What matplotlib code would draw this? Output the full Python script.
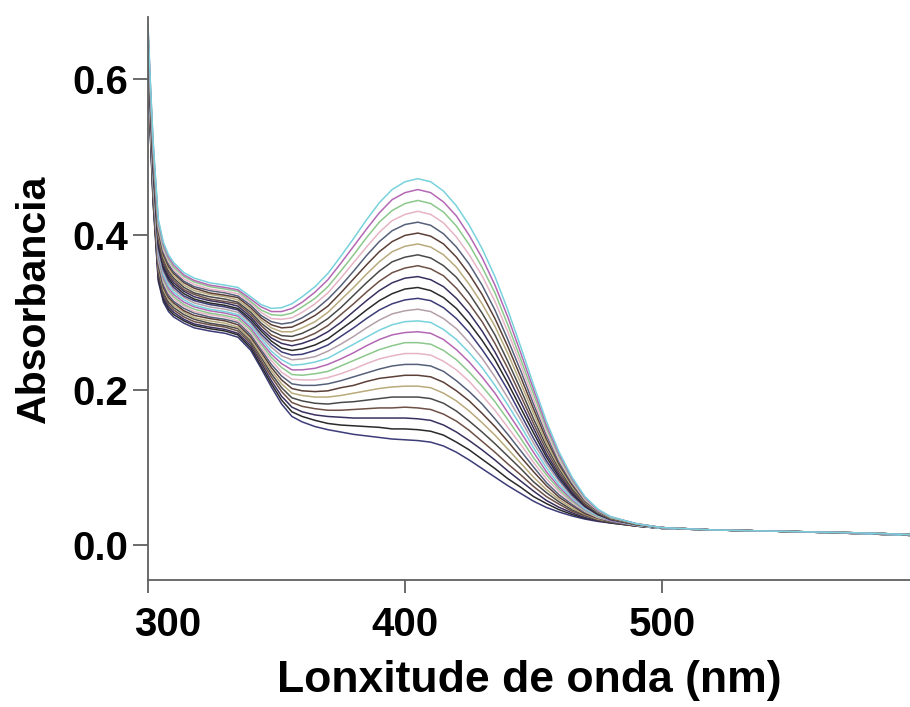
import matplotlib
matplotlib.use("Agg")
import matplotlib.pyplot as plt
import matplotlib.transforms as mtransforms

wavelength = [300, 301, 302, 304, 306, 308, 310, 314, 318, 324, 330, 335, 340, 344, 348, 352, 356, 360,
              365, 370, 375, 380, 385, 390, 395, 400, 405, 410, 415, 420, 425, 430, 435, 440, 445, 450,
              455, 460, 465, 470, 475, 480, 490, 500, 520, 550, 580, 597]

# absorbance spectra, from the lowest curve (abs_01) to the highest one (abs_25)
abs_01 = [.600,.520,.440,.340,.313,.301,.294,.286,.280,.276,.273,.268,.251,.228,.204,.182,.166,.159,.153,.149,.146,.143,.141,.139,.137,.136,.135,.133,.128,.120,.110,.099,.088,.077,.067,.057,.049,.043,.038,.034,.031,.029,.025,.022,.020,.018,.015,.013]
abs_02 = [.603,.523,.443,.343,.316,.304,.297,.289,.283,.279,.276,.271,.254,.231,.208,.187,.172,.166,.161,.157,.155,.154,.153,.152,.150,.150,.149,.147,.142,.133,.123,.111,.099,.086,.075,.063,.054,.046,.040,.035,.032,.029,.025,.022,.020,.018,.015,.013]
abs_03 = [.606,.526,.447,.347,.319,.307,.300,.291,.285,.281,.278,.273,.257,.235,.212,.192,.178,.172,.168,.166,.165,.164,.164,.164,.164,.164,.163,.161,.155,.146,.135,.123,.110,.096,.083,.070,.058,.049,.042,.036,.032,.030,.025,.022,.020,.018,.015,.013]
abs_04 = [.609,.529,.450,.350,.323,.310,.303,.294,.288,.284,.281,.276,.260,.238,.217,.198,.184,.179,.176,.174,.174,.175,.176,.177,.177,.178,.177,.175,.169,.160,.148,.134,.120,.105,.091,.076,.063,.053,.044,.038,.033,.030,.025,.022,.020,.018,.015,.013]
abs_05 = [.612,.532,.453,.353,.326,.313,.306,.297,.291,.286,.283,.279,.263,.242,.221,.203,.190,.186,.183,.182,.184,.185,.187,.189,.191,.191,.191,.189,.183,.173,.160,.146,.131,.115,.099,.082,.068,.056,.046,.039,.034,.030,.026,.022,.020,.018,.015,.013]
abs_06 = [.615,.535,.457,.357,.329,.316,.309,.300,.293,.289,.286,.281,.265,.245,.225,.208,.196,.193,.191,.191,.193,.196,.199,.202,.204,.205,.205,.203,.196,.186,.173,.158,.142,.124,.106,.088,.072,.059,.048,.040,.034,.031,.026,.022,.020,.018,.015,.013]
abs_07 = [.618,.538,.460,.360,.332,.319,.312,.302,.296,.292,.289,.284,.268,.249,.229,.213,.202,.199,.198,.199,.203,.206,.211,.215,.217,.219,.219,.217,.210,.199,.186,.170,.153,.134,.114,.095,.077,.062,.051,.041,.035,.031,.026,.022,.020,.018,.015,.013]
abs_08 = [.620,.540,.463,.363,.335,.322,.314,.305,.299,.294,.291,.287,.271,.252,.233,.218,.208,.206,.206,.208,.212,.217,.222,.227,.231,.233,.233,.231,.224,.212,.198,.182,.163,.143,.122,.101,.081,.065,.053,.043,.036,.031,.026,.022,.020,.018,.015,.013]
abs_09 = [.623,.543,.467,.367,.339,.325,.317,.308,.301,.297,.294,.289,.274,.255,.238,.223,.214,.213,.213,.216,.221,.227,.234,.240,.244,.247,.247,.245,.237,.226,.211,.193,.174,.152,.130,.107,.086,.069,.055,.044,.036,.032,.026,.022,.020,.018,.015,.013]
abs_10 = [.626,.546,.470,.370,.342,.328,.320,.310,.304,.299,.296,.292,.277,.259,.242,.229,.220,.219,.221,.224,.231,.238,.245,.252,.257,.261,.261,.259,.251,.239,.223,.205,.185,.162,.138,.113,.091,.072,.057,.045,.037,.032,.026,.022,.020,.018,.015,.013]
abs_11 = [.629,.549,.473,.373,.345,.331,.323,.313,.307,.302,.299,.295,.280,.262,.246,.234,.226,.226,.228,.233,.240,.248,.257,.265,.271,.274,.275,.273,.265,.252,.236,.217,.196,.171,.146,.120,.095,.075,.059,.046,.038,.032,.026,.022,.020,.018,.015,.013]
abs_12 = [.632,.552,.477,.377,.348,.334,.326,.316,.309,.304,.301,.297,.283,.266,.250,.239,.232,.233,.236,.241,.250,.259,.268,.277,.284,.288,.289,.287,.278,.265,.248,.229,.206,.181,.154,.126,.100,.078,.061,.047,.038,.033,.026,.022,.020,.018,.015,.013]
abs_13 = [.635,.555,.480,.380,.352,.338,.329,.319,.312,.307,.304,.300,.286,.269,.255,.244,.239,.240,.243,.250,.259,.269,.280,.290,.298,.302,.304,.301,.292,.279,.261,.241,.217,.190,.162,.132,.105,.082,.063,.049,.039,.033,.027,.023,.020,.018,.016,.014]
abs_14 = [.638,.558,.483,.383,.355,.341,.332,.321,.315,.310,.307,.303,.288,.272,.259,.249,.245,.246,.251,.258,.269,.280,.292,.303,.311,.316,.318,.315,.306,.292,.274,.252,.228,.200,.169,.138,.109,.085,.065,.050,.040,.033,.027,.023,.020,.018,.016,.014]
abs_15 = [.641,.561,.487,.387,.358,.344,.335,.324,.317,.312,.309,.305,.291,.276,.263,.254,.251,.253,.258,.266,.278,.290,.303,.315,.324,.330,.332,.328,.319,.305,.286,.264,.239,.209,.177,.145,.114,.088,.067,.051,.040,.034,.027,.023,.020,.018,.016,.014]
abs_16 = [.644,.564,.490,.390,.361,.347,.338,.327,.320,.315,.312,.308,.294,.279,.267,.260,.257,.260,.266,.275,.287,.301,.315,.328,.338,.344,.346,.342,.333,.318,.299,.276,.249,.218,.185,.151,.118,.091,.069,.052,.041,.034,.027,.023,.020,.018,.016,.014]
abs_17 = [.647,.567,.493,.393,.364,.350,.341,.329,.323,.317,.314,.311,.297,.283,.271,.265,.263,.266,.273,.283,.297,.311,.326,.340,.351,.357,.360,.356,.347,.331,.311,.288,.260,.228,.193,.157,.123,.094,.071,.053,.042,.034,.027,.023,.020,.018,.016,.014]
abs_18 = [.650,.570,.497,.397,.368,.353,.344,.332,.325,.320,.317,.313,.300,.286,.276,.270,.269,.273,.281,.292,.306,.322,.338,.353,.365,.371,.374,.370,.360,.345,.324,.299,.271,.237,.201,.163,.128,.098,.073,.055,.042,.035,.027,.023,.020,.018,.016,.014]
abs_19 = [.653,.573,.500,.400,.371,.356,.347,.335,.328,.323,.320,.316,.303,.290,.280,.275,.275,.280,.288,.300,.316,.332,.349,.365,.378,.385,.388,.384,.374,.358,.336,.311,.282,.247,.209,.170,.132,.101,.076,.056,.043,.035,.027,.023,.020,.018,.016,.014]
abs_20 = [.656,.576,.503,.403,.374,.359,.350,.338,.331,.325,.322,.319,.306,.293,.284,.280,.281,.287,.296,.308,.325,.343,.361,.378,.391,.399,.402,.398,.388,.371,.349,.323,.292,.256,.217,.176,.137,.104,.078,.057,.044,.035,.027,.023,.020,.018,.016,.014]
abs_21 = [.658,.578,.507,.407,.377,.362,.352,.340,.333,.328,.325,.321,.309,.296,.288,.285,.287,.293,.303,.317,.334,.353,.373,.391,.405,.413,.416,.412,.401,.384,.362,.335,.303,.265,.225,.182,.142,.107,.080,.058,.044,.036,.028,.023,.020,.018,.016,.014]
abs_22 = [.661,.581,.510,.410,.380,.365,.355,.343,.336,.330,.327,.324,.312,.300,.292,.291,.293,.300,.311,.325,.344,.364,.384,.403,.418,.426,.430,.426,.415,.397,.374,.347,.314,.275,.233,.188,.146,.110,.082,.059,.045,.036,.028,.023,.020,.018,.016,.014]
abs_23 = [.664,.584,.513,.413,.384,.368,.358,.346,.339,.333,.330,.327,.314,.303,.297,.296,.299,.307,.318,.333,.353,.374,.396,.416,.431,.440,.444,.440,.429,.411,.387,.358,.325,.284,.240,.195,.151,.114,.084,.061,.046,.036,.028,.023,.020,.018,.016,.014]
abs_24 = [.667,.587,.517,.417,.387,.371,.361,.348,.341,.335,.332,.329,.317,.307,.301,.301,.305,.313,.326,.342,.363,.385,.407,.428,.445,.454,.458,.454,.442,.424,.399,.370,.335,.294,.248,.201,.155,.117,.086,.062,.046,.037,.028,.023,.020,.018,.016,.014]
abs_25 = [.670,.590,.520,.420,.390,.374,.364,.351,.344,.338,.335,.332,.320,.310,.305,.306,.311,.320,.333,.350,.372,.395,.419,.441,.458,.468,.472,.468,.456,.437,.412,.382,.346,.303,.256,.207,.160,.120,.088,.063,.047,.037,.028,.023,.020,.018,.016,.014]

spectra = [abs_01, abs_02, abs_03, abs_04, abs_05, abs_06, abs_07, abs_08, abs_09, abs_10, abs_11, abs_12, abs_13,
           abs_14, abs_15, abs_16, abs_17, abs_18, abs_19, abs_20, abs_21, abs_22, abs_23, abs_24, abs_25]

palette = ["#3c3c78", "#2a2a2a", "#3a3060", "#6e5046", "#4a4a4a", "#b9aa7c", "#5c4038",
           "#56607a", "#e6b4c4", "#8cc88c", "#b468b4", "#78d2dc", "#b4a0aa"]

fig = plt.figure(figsize=(9.1, 7.07), dpi=100)
ax = fig.add_axes([148/910, 1-580/707, 1-148/910, (580-17)/707])
for i, ys in enumerate(spectra):
    ax.plot(wavelength, ys, color=palette[i % len(palette)], lw=1.1, solid_joinstyle="round")

ax.set_xlim(300, 596.5)
ax.set_ylim(-0.0444, 0.680)
ax.set_xticks([300, 400, 500])
ax.set_yticks([0.0, 0.2, 0.4, 0.6])
ax.set_yticklabels(["0.0", "0.2", "0.4", "0.6"])
for s in ["top", "right"]:
    ax.spines[s].set_visible(False)
for s in ["left", "bottom"]:
    ax.spines[s].set_color("#606060")
    ax.spines[s].set_linewidth(1.3)
ax.tick_params(axis="both", colors="#606060", width=1.3, labelcolor="black")
ax.tick_params(axis="y", length=11, pad=3)
ax.tick_params(axis="x", length=9.5, pad=9)
for lab in ax.get_xticklabels() + ax.get_yticklabels():
    lab.set_fontfamily("Liberation Sans")
    lab.set_fontweight("bold")
    lab.set_fontsize(29)
first = ax.get_xticklabels()[0]
first.set_transform(first.get_transform() + mtransforms.ScaledTranslation(20/100, 0, fig.dpi_scale_trans))
ax.set_xlabel("Lonxitude de onda (nm)", fontfamily="Liberation Sans", fontweight="bold", fontsize=32, labelpad=12)
ax.set_ylabel("Absorbancia", fontfamily="Liberation Sans", fontweight="bold", fontsize=29.5, labelpad=14)

fig.savefig("out.png", dpi=100)
